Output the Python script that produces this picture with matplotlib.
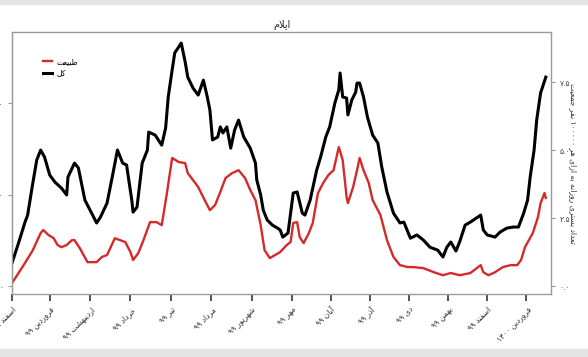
import matplotlib
matplotlib.use('Agg')
import matplotlib.pyplot as plt
from matplotlib.patches import Rectangle
from matplotlib.ticker import FuncFormatter

plt.rcParams['font.family'] = ['DejaVu Sans']

# daily hospitalised per 100000 people, Ilam
days_total = [0, 5, 10, 12, 16, 19, 22, 25, 29, 33, 38, 42, 43, 48, 51, 56, 60, 65, 68, 73,
              77, 81, 85, 88, 92, 93, 96, 100, 104, 105, 110, 115, 118, 120, 123, 125, 130, 133, 135, 139,
              143, 147, 150, 152, 154, 158, 160, 162, 165, 168, 171, 174, 178, 183, 187, 188, 191, 193, 196, 200,
              204, 206, 208, 212, 216, 219, 223, 225, 229, 234, 237, 241, 244, 248, 251, 252, 254, 257, 258, 261,
              264, 265, 267, 270, 273, 277, 281, 284, 288, 293, 298, 301, 306, 311, 316, 321, 327, 331, 334, 337,
              341, 344, 348, 352, 360, 362, 365, 371, 375, 380, 385, 389, 393, 396, 398, 401, 403, 406, 410]
total = [0.85, 1.58, 2.35, 2.61, 3.79, 4.63, 5.0, 4.74, 4.08, 3.82, 3.60, 3.35, 4.01, 4.52, 4.34, 3.16, 2.79, 2.32, 2.54, 3.05,
         4.01, 5.0, 4.52, 4.45, 3.16, 2.72, 2.90, 4.52, 5.0, 5.66, 5.55, 5.18, 5.81, 6.95, 7.94, 8.57, 8.93, 8.24, 7.68, 7.28,
         7.02, 7.57, 6.95, 6.47, 5.37, 5.48, 5.85, 5.63, 5.85, 5.07, 5.74, 6.10, 5.48, 5.07, 4.52, 3.90, 3.35, 2.79, 2.43, 2.24,
         2.13, 2.06, 1.80, 1.95, 3.42, 3.46, 2.68, 2.61, 3.16, 4.26, 4.74, 5.48, 5.85, 6.73, 7.21, 7.83, 6.95, 6.91, 6.29, 6.84,
         7.13, 7.46, 7.46, 6.95, 6.21, 5.55, 5.26, 4.38, 3.46, 2.68, 2.32, 2.35, 1.76, 1.88, 1.69, 1.43, 1.32, 1.07, 1.43, 1.62,
         1.29, 1.65, 2.24, 2.35, 2.61, 2.06, 1.88, 1.80, 1.99, 2.13, 2.17, 2.17, 2.68, 3.16, 4.01, 5.0, 6.10, 7.10, 7.68]

days_natural = [0, 5, 10, 16, 22, 24, 28, 32, 35, 38, 42, 46, 48, 52, 58, 65, 69, 73, 79, 83,
                87, 91, 93, 97, 101, 106, 111, 115, 119, 123, 128, 133, 135, 139, 143, 148, 152, 156, 160, 164,
                169, 174, 179, 183, 187, 191, 194, 198, 202, 206, 211, 214, 216, 219, 221, 224, 228, 231, 235, 239,
                243, 247, 251, 254, 257, 258, 262, 265, 267, 270, 274, 277, 283, 288, 293, 298, 304, 308, 316, 324,
                331, 337, 344, 352, 357, 360, 362, 366, 371, 377, 383, 388, 391, 394, 400, 404, 406, 409, 410]
natural = [0.11, 0.48, 0.85, 1.32, 1.95, 2.06, 1.88, 1.76, 1.51, 1.43, 1.51, 1.69, 1.69, 1.40, 0.88, 0.88, 1.07, 1.14, 1.76, 1.69,
           1.62, 1.25, 0.96, 1.21, 1.69, 2.35, 2.35, 2.24, 3.42, 4.71, 4.56, 4.52, 4.15, 3.90, 3.64, 3.16, 2.79, 2.98, 3.46, 3.97,
           4.15, 4.26, 3.97, 3.53, 3.16, 2.24, 1.32, 1.03, 1.14, 1.25, 1.51, 1.62, 2.32, 2.35, 1.80, 1.58, 1.95, 2.32, 3.42, 3.79,
           4.08, 4.26, 5.11, 4.63, 3.27, 3.05, 3.64, 4.26, 4.71, 4.26, 3.79, 3.16, 2.61, 1.69, 1.07, 0.77, 0.70, 0.70, 0.66, 0.51,
           0.40, 0.48, 0.40, 0.48, 0.66, 0.77, 0.51, 0.40, 0.51, 0.70, 0.77, 0.77, 0.96, 1.43, 1.95, 2.54, 3.05, 3.42, 3.24]

month_days = [0, 29, 60, 91, 122, 153, 184, 215, 245, 275, 305, 335, 365, 395]
month_labels = ['اسفند ۹۸', 'فروردین ۹۹', 'اردیبهشت ۹۹', 'خرداد ۹۹', 'تیر ۹۹', 'مرداد ۹۹', 'شهریور ۹۹',
                'مهر ۹۹', 'آبان ۹۹', 'آذر ۹۹', 'دی ۹۹', 'بهمن ۹۹', 'اسفند ۹۹', 'فروردین ۱۴۰۰']
right_ticks = [0, 2.5, 5, 7.5]
left_ticks = [0, 20, 40]

# matplotlib does no arabic shaping, so pick the presentation forms by hand
# (isolated, final, initial, medial); None = does not join the next letter
FORMS = {
    'ا': ('\uFE8D', '\uFE8E', None, None), 'آ': ('\uFE81', '\uFE82', None, None),
    'ب': ('\uFE8F', '\uFE90', '\uFE91', '\uFE92'), 'ت': ('\uFE95', '\uFE96', '\uFE97', '\uFE98'),
    'ج': ('\uFE9D', '\uFE9E', '\uFE9F', '\uFEA0'), 'خ': ('\uFEA5', '\uFEA6', '\uFEA7', '\uFEA8'),
    'د': ('\uFEA9', '\uFEAA', None, None), 'ذ': ('\uFEAB', '\uFEAC', None, None),
    'ر': ('\uFEAD', '\uFEAE', None, None), 'ز': ('\uFEAF', '\uFEB0', None, None),
    'س': ('\uFEB1', '\uFEB2', '\uFEB3', '\uFEB4'), 'ش': ('\uFEB5', '\uFEB6', '\uFEB7', '\uFEB8'),
    'ط': ('\uFEC1', '\uFEC2', '\uFEC3', '\uFEC4'), 'ع': ('\uFEC9', '\uFECA', '\uFECB', '\uFECC'),
    'ف': ('\uFED1', '\uFED2', '\uFED3', '\uFED4'), 'ک': ('\uFED9', '\uFEDA', '\uFEDB', '\uFEDC'),
    'ل': ('\uFEDD', '\uFEDE', '\uFEDF', '\uFEE0'), 'م': ('\uFEE1', '\uFEE2', '\uFEE3', '\uFEE4'),
    'ن': ('\uFEE5', '\uFEE6', '\uFEE7', '\uFEE8'), 'ه': ('\uFEE9', '\uFEEA', '\uFEEB', '\uFEEC'),
    'و': ('\uFEED', '\uFEEE', None, None), 'ی': ('\uFEEF', '\uFEF0', '\uFEF3', '\uFEF4'),
    'لا': ('\uFEFB', '\uFEFC', None, None),
}


def shape_word(word):
    letters = []
    i = 0
    while i < len(word):
        if word[i] == 'ل' and i + 1 < len(word) and word[i + 1] == 'ا':
            letters.append('لا')
            i += 2
        else:
            letters.append(word[i])
            i += 1
    out = []
    for k, c in enumerate(letters):
        if c not in FORMS:
            out.append(c)
            continue
        f = FORMS[c]
        prev = letters[k - 1] if k > 0 else None
        nxt = letters[k + 1] if k + 1 < len(letters) else None
        jp = prev in FORMS and FORMS[prev][2] is not None
        jn = nxt in FORMS and f[2] is not None
        if jp and jn:
            out.append(f[3])
        elif jp:
            out.append(f[1])
        elif jn:
            out.append(f[2])
        else:
            out.append(f[0])
    return ''.join(out[::-1])


def fa(text):
    words = text.split(' ')
    vis = []
    for w in reversed(words):
        if all('\u06F0' <= ch <= '\u06F9' or ch == '.' for ch in w):
            vis.append(w)
        else:
            vis.append(shape_word(w))
    return ' '.join(vis)


def fa_num(v):
    return str(v).translate(str.maketrans('0123456789', '۰۱۲۳۴۵۶۷۸۹'))


fig = plt.figure(figsize=(5.88, 3.57), dpi=100)
fig.patches.append(Rectangle((0, 0.988), 1, 0.012, transform=fig.transFigure, color='#e4e4e4', zorder=0))
fig.patches.append(Rectangle((0, 0), 1, 0.022, transform=fig.transFigure, color='#e4e4e4', zorder=0))

ax = fig.add_axes([0.0204, 0.1765, 0.9167, 0.734])
ax.plot(days_total, total, color='black', lw=2.2, label=fa('کل'))
ax.plot(days_natural, natural, color='#d42a2a', lw=1.7, label=fa('طبیعت'))

ax.set_xlim(0, 414)
ax.set_ylim(-0.29, 9.34)

for s in ax.spines.values():
    s.set_color('#9a9a9a')
    s.set_linewidth(1.0)

ax.set_xticks(month_days)
ax.set_xticklabels([fa(m) for m in month_labels], rotation=45, ha='right',
                   rotation_mode='anchor', fontsize=5.5, color='#333333')
ax.tick_params(axis='x', length=5, width=1.3, color='#444444', pad=3)

ax.yaxis.tick_right()
ax.set_yticks(right_ticks)
ax.set_yticklabels([fa_num('%.1f' % t) for t in right_ticks], fontsize=5.5, color='#444444')
ax.tick_params(axis='y', length=3, width=0.8, color='#9a9a9a', pad=3)
ax.yaxis.set_label_position('right')
ax.set_ylabel(fa('تعداد بستری روزانه به ازای هر ۱۰۰۰۰۰ نفر جمعیت'), rotation=270,
              fontsize=5.5, color='#333333', labelpad=6)

sec = ax.secondary_yaxis('left', functions=(lambda v: v * 5.95, lambda c: c / 5.95))
sec.set_yticks(left_ticks)
sec.yaxis.set_major_formatter(FuncFormatter(lambda v, p: fa_num(int(round(v)))))
sec.tick_params(length=3, width=0.8, color='#9a9a9a', labelsize=5, labelcolor='#444444', pad=3)
sec.spines['left'].set_color('#9a9a9a')

ax.set_title(fa('ایلام'), fontsize=7, color='#222222', pad=3)

h, l = ax.get_legend_handles_labels()
ax.legend(h[::-1], l[::-1], loc='upper left', bbox_to_anchor=(0.045, 0.93), frameon=False,
          fontsize=5.5, handlelength=1.2, handletextpad=0.6, labelspacing=0.3)

plt.savefig('out.png', dpi=100)
